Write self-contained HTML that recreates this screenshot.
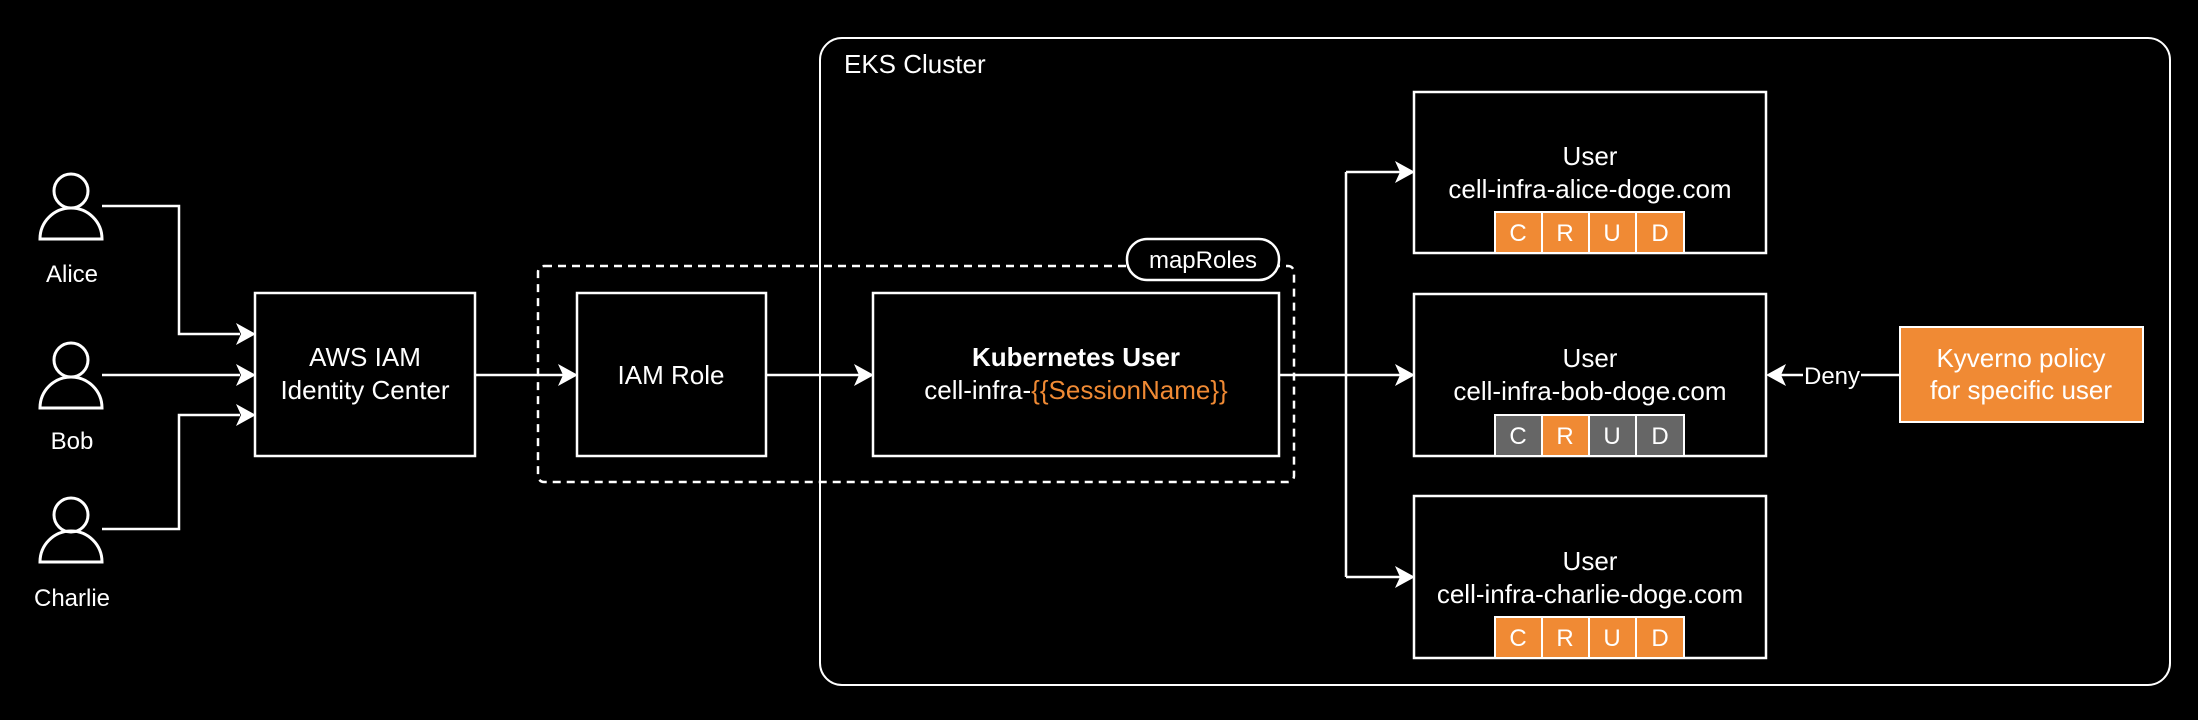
<!DOCTYPE html>
<html><head><meta charset="utf-8"><style>
html,body{margin:0;padding:0;background:#000;}
svg{display:block;}
text{font-family:"Liberation Sans",Arial,sans-serif;fill:#fff;}
</style></head><body>
<svg width="2198" height="720" viewBox="0 0 2198 720" xmlns="http://www.w3.org/2000/svg">
<rect width="2198" height="720" fill="#000"/>
<!-- EKS cluster -->
<rect x="820" y="38" width="1350" height="647" rx="22" fill="none" stroke="#fff" stroke-width="2"/>
<text x="844" y="73" font-size="26">EKS Cluster</text>

<!-- persons -->
<g fill="none" stroke="#fff" stroke-width="3">
<circle cx="71" cy="191" r="17"/><path d="M40,239 L102,239 A31,31 0 0 0 40,239 Z"/>
<circle cx="71" cy="360" r="17"/><path d="M40,408 L102,408 A31,31 0 0 0 40,408 Z"/>
<circle cx="71" cy="515" r="17"/><path d="M40,562 L102,562 A31,31 0 0 0 40,562 Z"/>
</g>
<g font-size="24" text-anchor="middle">
<text x="72" y="282">Alice</text>
<text x="72" y="449">Bob</text>
<text x="72" y="606">Charlie</text>
</g>

<!-- connectors -->
<g fill="none" stroke="#fff" stroke-width="2.5">
<polyline points="102,206 179,206 179,334 240,334"/>
<polyline points="102,375 240,375"/>
<polyline points="102,529 179,529 179,415 240,415"/>
<polyline points="475,375 563,375"/>
<polyline points="766,375 859,375"/>
<polyline points="1279,375 1400,375"/>
<polyline points="1346,172 1346,577"/>
<polyline points="1346,172 1400,172"/>
<polyline points="1346,577 1400,577"/>
<polyline points="1900,375 1780,375"/>
</g>
<g fill="#fff">
<path d="M256,334 l-20,-11 l5,11 l-5,11 z"/>
<path d="M256,375 l-20,-11 l5,11 l-5,11 z"/>
<path d="M256,415 l-20,-11 l5,11 l-5,11 z"/>
<path d="M578,375 l-20,-11 l5,11 l-5,11 z"/>
<path d="M874,375 l-20,-11 l5,11 l-5,11 z"/>
<path d="M1415,172 l-20,-11 l5,11 l-5,11 z"/>
<path d="M1415,375 l-20,-11 l5,11 l-5,11 z"/>
<path d="M1415,577 l-20,-11 l5,11 l-5,11 z"/>
<path d="M1766,375 l20,-11 l-5,11 l5,11 z"/>
</g>

<!-- dashed -->
<rect x="538" y="266" width="756" height="216" rx="6" fill="none" stroke="#fff" stroke-width="2.5" stroke-dasharray="8,6"/>
<rect x="1127" y="239" width="152" height="41" rx="20" fill="#000" stroke="#fff" stroke-width="2.5"/>
<text x="1203" y="268" font-size="24" text-anchor="middle">mapRoles</text>

<!-- boxes -->
<g fill="#000" stroke="#fff" stroke-width="2.5">
<rect x="255" y="293" width="220" height="163"/>
<rect x="577" y="293" width="189" height="163"/>
<rect x="873" y="293" width="406" height="163"/>
<rect x="1414" y="92" width="352" height="161"/>
<rect x="1414" y="294" width="352" height="162"/>
<rect x="1414" y="496" width="352" height="162"/>
</g>
<g font-size="26" text-anchor="middle">
<text x="365" y="366">AWS IAM</text>
<text x="365" y="399">Identity Center</text>
<text x="671" y="384">IAM Role</text>
<text x="1076" y="366" font-weight="bold">Kubernetes User</text>
<text x="1076" y="399">cell-infra-<tspan style="fill:#F08A34">{{SessionName}}</tspan></text>
<text x="1590" y="165">User</text>
<text x="1590" y="198">cell-infra-alice-doge.com</text>
<text x="1590" y="367">User</text>
<text x="1590" y="400">cell-infra-bob-doge.com</text>
<text x="1590" y="570">User</text>
<text x="1590" y="603">cell-infra-charlie-doge.com</text>
</g>

<!-- CRUD -->
<g stroke="#fff" stroke-width="2">
<rect x="1495" y="212" width="47" height="41" fill="#F08A34"/>
<rect x="1542" y="212" width="47" height="41" fill="#F08A34"/>
<rect x="1589" y="212" width="47" height="41" fill="#F08A34"/>
<rect x="1636" y="212" width="48" height="41" fill="#F08A34"/>
<rect x="1495" y="415" width="47" height="41" fill="#666"/>
<rect x="1542" y="415" width="47" height="41" fill="#F08A34"/>
<rect x="1589" y="415" width="47" height="41" fill="#666"/>
<rect x="1636" y="415" width="48" height="41" fill="#666"/>
<rect x="1495" y="617" width="47" height="41" fill="#F08A34"/>
<rect x="1542" y="617" width="47" height="41" fill="#F08A34"/>
<rect x="1589" y="617" width="47" height="41" fill="#F08A34"/>
<rect x="1636" y="617" width="48" height="41" fill="#F08A34"/>
</g>
<g font-size="24" text-anchor="middle">
<text x="1518" y="241">C</text><text x="1565" y="241">R</text><text x="1612" y="241">U</text><text x="1660" y="241">D</text>
<text x="1518" y="444">C</text><text x="1565" y="444">R</text><text x="1612" y="444">U</text><text x="1660" y="444">D</text>
<text x="1518" y="646">C</text><text x="1565" y="646">R</text><text x="1612" y="646">U</text><text x="1660" y="646">D</text>
</g>

<!-- Deny -->
<rect x="1803" y="360" width="58" height="30" fill="#000"/>
<text x="1832" y="384" font-size="24" text-anchor="middle">Deny</text>

<!-- Kyverno -->
<rect x="1900" y="327" width="243" height="95" fill="#F08A34" stroke="#fff" stroke-width="2"/>
<text x="2021" y="367" font-size="26" text-anchor="middle">Kyverno policy</text>
<text x="2021" y="399" font-size="26" text-anchor="middle">for specific user</text>
</svg>
</body></html>
